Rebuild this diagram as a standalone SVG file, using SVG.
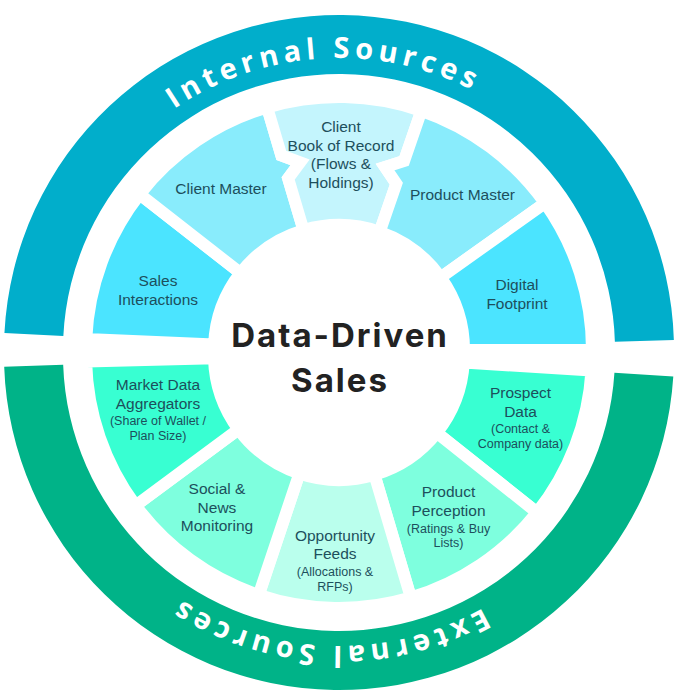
<svg xmlns="http://www.w3.org/2000/svg" width="680" height="694" viewBox="0 0 680 694">
<defs>
<style>
.seg{stroke:#ffffff;stroke-width:12;stroke-linejoin:miter}
.lbl{font-family:"Liberation Sans",Arial,sans-serif;font-size:15.5px;fill:#1D4F5C;text-anchor:middle}
.sub{font-size:12.5px}
.ring{font-family:"Open Sans","DejaVu Sans",sans-serif;font-weight:700;font-size:29px;fill:#ffffff;letter-spacing:5px}
.center{font-family:Inter,"Open Sans",sans-serif;font-weight:700;font-size:33px;fill:#222222;text-anchor:middle;letter-spacing:2px}
</style>
<path id="topArc" d="M 47 350 A 292 292 0 0 1 631 350"/>
<path id="botArc" d="M 630 355 A 291 291 0 0 1 48 355"/>
</defs>
<rect width="680" height="694" fill="#ffffff"/>

<g id="internal-sources">
<path d="M 4.43 333.05 A 335 335 0 0 1 673.85 340.06 L 614.88 341.81 A 276 276 0 0 0 63.35 336.04 Z" fill="#01AECB"/>
<text class="ring"><textPath href="#topArc" startOffset="48.2%" text-anchor="middle">Internal Sources</textPath></text>
</g>
<g id="external-sources">
<path d="M 673.30 376.62 A 335 335 0 0 1 4.20 366.69 L 63.17 364.63 A 276 276 0 0 0 614.43 372.81 Z" fill="#00B388"/>
<text class="ring"><textPath href="#botArc" startOffset="51.1%" text-anchor="middle">External Sources</textPath></text>
</g>

<g id="sales-interactions">
<path class="seg" fill="#4BE4FF" d="M 86.24 338.96 A 253 253 0 0 1 139.63 194.24 L 240.50 273.04 A 125 125 0 0 0 214.12 344.55 Z"/>
<text class="lbl"><tspan x="158" y="286">Sales</tspan><tspan x="158" y="305">Interactions</tspan></text>
</g>
<g id="client-master">
<path class="seg" fill="#89ECFC" d="M 139.63 194.24 A 253 253 0 0 1 267.14 107.42 L 281.34 155.36 L 300.09 162.33 L 288.16 178.37 L 303.50 230.15 A 125 125 0 0 0 240.50 273.04 Z"/>
<text class="lbl"><tspan x="221" y="194">Client Master</tspan></text>
</g>
<g id="client-book-of-record">
<path class="seg" fill="#C4F5FD" d="M 267.14 107.42 A 253 253 0 0 1 421.37 110.78 L 404.11 160.90 L 385.08 167.03 L 396.30 183.59 L 379.70 231.81 A 125 125 0 0 0 303.50 230.15 L 288.16 178.37 L 300.09 162.33 L 281.34 155.36 Z"/>
<text class="lbl"><tspan x="341" y="132">Client</tspan><tspan x="341" y="150.5">Book of Record</tspan><tspan x="341" y="169">(Flows &amp;</tspan><tspan x="341" y="188">Holdings)</tspan></text>
</g>
<g id="product-master">
<path class="seg" fill="#89ECFC" d="M 421.37 110.78 A 253 253 0 0 1 544.97 203.08 L 440.77 277.41 A 125 125 0 0 0 379.70 231.81 L 396.30 183.59 L 385.08 167.03 L 404.11 160.90 Z"/>
<text class="lbl"><tspan x="462.5" y="200">Product Master</tspan></text>
</g>
<g id="digital-footprint">
<path class="seg" fill="#4BE4FF" d="M 544.97 203.08 A 253 253 0 0 1 592 350 L 464 350 A 125 125 0 0 0 440.77 277.41 Z"/>
<text class="lbl"><tspan x="517" y="290">Digital</tspan><tspan x="517" y="308.5">Footprint</tspan></text>
</g>

<g id="prospect-data">
<path class="seg" fill="#38FFD2" d="M 591.53 370.45 A 253 253 0 0 1 537.00 512.49 L 436.83 432.81 A 125 125 0 0 0 463.77 362.63 Z"/>
<text class="lbl"><tspan x="520.5" y="398">Prospect</tspan><tspan x="520.5" y="416.5">Data</tspan><tspan class="sub" x="520.5" y="433">(Contact &amp;</tspan><tspan class="sub" x="520.5" y="448">Company data)</tspan></text>
</g>
<g id="product-perception">
<path class="seg" fill="#7EFFDE" d="M 537.00 512.49 A 253 253 0 0 1 410.86 597.58 L 374.50 474.85 A 125 125 0 0 0 436.83 432.81 Z"/>
<text class="lbl"><tspan x="448.5" y="497">Product</tspan><tspan x="448.5" y="515.5">Perception</tspan><tspan class="sub" x="448.5" y="532.5">(Ratings &amp; Buy</tspan><tspan class="sub" x="448.5" y="546.5">Lists)</tspan></text>
</g>
<g id="opportunity-feeds">
<path class="seg" fill="#BAFFED" d="M 410.86 597.58 A 253 253 0 0 1 258.72 594.92 L 299.34 473.54 A 125 125 0 0 0 374.50 474.85 Z"/>
<text class="lbl"><tspan x="335" y="540.5">Opportunity</tspan><tspan x="335" y="559">Feeds</tspan><tspan class="sub" x="335" y="576">(Allocations &amp;</tspan><tspan class="sub" x="335" y="591">RFPs)</tspan></text>
</g>
<g id="social-news-monitoring">
<path class="seg" fill="#7EFFDE" d="M 258.72 594.92 A 253 253 0 0 1 135.62 505.49 L 238.52 429.35 A 125 125 0 0 0 299.34 473.54 Z"/>
<text class="lbl"><tspan x="217" y="494">Social &amp;</tspan><tspan x="217" y="512.5">News</tspan><tspan x="217" y="531">Monitoring</tspan></text>
</g>
<g id="market-data-aggregators">
<path class="seg" fill="#38FFD2" d="M 135.62 505.49 A 253 253 0 0 1 86.09 361.62 L 214.04 358.27 A 125 125 0 0 0 238.52 429.35 Z"/>
<text class="lbl"><tspan x="158" y="390">Market Data</tspan><tspan x="158" y="408.5">Aggregators</tspan><tspan class="sub" x="158" y="425">(Share of Wallet /</tspan><tspan class="sub" x="158" y="439.5">Plan Size)</tspan></text>
</g>

<g id="data-driven-sales">
<text class="center"><tspan x="340" y="347">Data-Driven</tspan><tspan x="340" y="392">Sales</tspan></text>
</g>

<g id="connectors"></g>
</svg>
